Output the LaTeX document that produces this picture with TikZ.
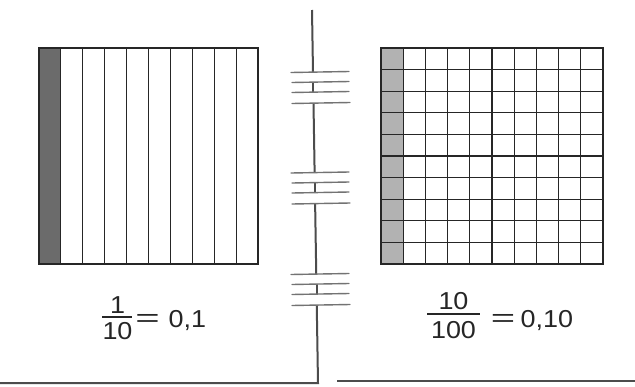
\documentclass[tikz,border=0pt]{standalone}
\usepackage{fontspec}
\usepackage{graphicx}
\setmainfont{Liberation Sans}[FakeStretch=1.1]
\begin{document}
\begin{tikzpicture}[x=1pt,y=-1pt,
  gridline/.style={line width=1.1pt, draw=black!85},
  frame/.style={line width=1.5pt, draw=black!85},
  stem/.style={line width=2pt, draw=black!70},
  breakline/.style={line width=1.4pt, draw=black!55, line cap=round},
  txt/.style={font=\fontsize{24.5}{28}\selectfont, inner sep=0pt, text=black!85},
  fracbar/.style={line width=1.3pt, draw=black!85}]
\useasboundingbox (0,0) rectangle (635,386);
\fill[white] (0,0) rectangle (635,386);
% left square (tenths)
\fill[black!58] (39,48) rectangle (60.9,264);
\foreach \i in {1,...,9} \draw[gridline] ({39+\i*21.9},48) -- ({39+\i*21.9},264);
\draw[frame] (39,48) rectangle (258,264);
% right square (hundredths)
\fill[black!30] (381,48) rectangle (403.2,264);
\foreach \i in {1,...,9} {
  \draw[gridline] ({381+\i*22.2},48) -- ({381+\i*22.2},264);
  \draw[gridline] (381,{48+\i*21.6}) -- (603,{48+\i*21.6});
}
\draw[frame] (381,48) rectangle (603,264);
% central stem and base lines
\coordinate (stemtop) at (312,10);
\coordinate (stembot) at (318,383);
\coordinate (baseL) at (0,383);
\coordinate (baseRa) at (337,381);
\coordinate (baseRb) at (635,381);
\draw[stem] (stemtop) -- (stembot) -- (baseL);
\draw[stem] (baseRa) -- (baseRb);
% break marks
\foreach \yc/\xc in {87.5/313, 188/315, 289.5/317} {
  \fill[white] (291,{\yc-16}) rectangle (350,{\yc+16});
  \draw[stem] (\xc,{\yc-5}) -- (\xc,{\yc+5});
  \draw[breakline] (291,{\yc-15}) -- (349,{\yc-16});
  \draw[breakline] (292,{\yc-5}) -- (349,{\yc-6});
  \draw[breakline] (292,{\yc+5}) -- (349,{\yc+4});
  \draw[breakline] (292,{\yc+16}) -- (350,{\yc+15});
}
% left label
\node[txt, anchor=base] (num1) at (117.5,313) {1};
\node[txt, anchor=base] (den1) at (117.5,339) {10};
\coordinate (bar1a) at (102,317);
\coordinate (bar1b) at (132,317);
\draw[fracbar] (bar1a) -- (bar1b);
\node[txt, anchor=base] (eq1) at (147.5,326.5) {\scalebox{1.55}[1]{=}};
\node[txt, anchor=base west] (val1) at (168.5,327) {0,1};
% right label
\node[txt, anchor=base] (num2) at (453.5,309) {10};
\node[txt, anchor=base] (den2) at (453.5,338) {100};
\coordinate (bar2a) at (427,314);
\coordinate (bar2b) at (480,314);
\draw[fracbar] (bar2a) -- (bar2b);
\node[txt, anchor=base] (eq2) at (503,326.5) {\scalebox{1.55}[1]{=}};
\node[txt, anchor=base west] (val2) at (520.5,327) {0,10};
\end{tikzpicture}
\end{document}
